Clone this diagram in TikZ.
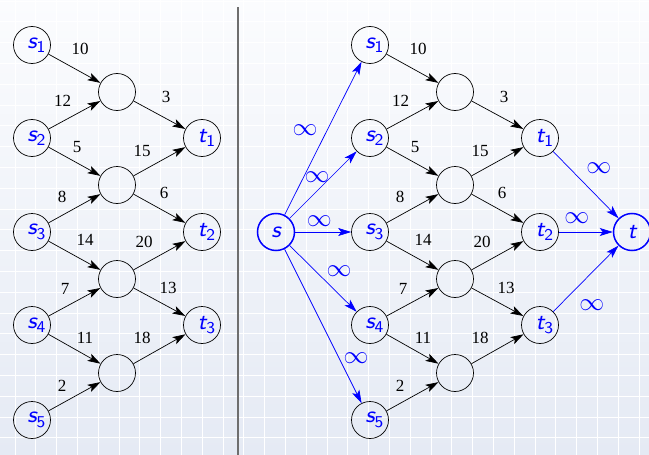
\documentclass[tikz,border=0pt]{standalone}
\usepackage{fontspec}
\newfontfamily\numfont{Liberation Serif}
\newfontfamily\labit{lmsans8-oblique.otf}
\newfontfamily\labup{lmsans8-regular.otf}
\usetikzlibrary{arrows.meta}
\definecolor{bgtop}{HTML}{FBFCFE}
\definecolor{bgbot}{HTML}{E5EAF4}
\definecolor{divgray}{HTML}{6E6E6E}
\newcommand\vl[2]{\fontsize{23}{23}\selectfont\labit #1\rlap{\raisebox{-4.5pt}{\fontsize{16.5}{16.5}\selectfont\labup #2}}}
\tikzset{
  vert/.style={circle, draw=black, line width=0.7pt, minimum size=37pt, inner sep=0pt, text=blue},
  term/.style={vert, draw=blue, line width=1.5pt},
  e/.style={-{Stealth[length=13pt,width=8pt,inset=3pt]}, line width=0.7pt},
  be/.style={e, draw=blue},
  w/.style={font=\numfont\fontsize{17}{17}\selectfont, inner sep=0pt},
  inf/.style={text=blue, font=\fontsize{25}{25}\selectfont, inner sep=0pt},
}
\begin{document}
\begin{tikzpicture}[x=1pt, y=-1pt]
\useasboundingbox (0,0) rectangle (649,455);
\shade[top color=bgtop, bottom color=bgbot] (0,0) rectangle (649,455);
\foreach \k in {0,...,31} \draw[white, line width=0.8pt] ({15+20.8*\k},0) -- ({15+20.8*\k},455);
\foreach \k in {0,...,21} \draw[white, line width=0.8pt] (0,{1+20.8*\k}) -- (649,{1+20.8*\k});
\draw[divgray, line width=1.3pt] (238,7) -- (238,455);

\foreach \p/\ox in {L/0,R/338} {
  \node[vert] (\p s1) at (\ox+32,45) {\vl{s}{1}};
  \node[vert] (\p s2) at (\ox+32,138) {\vl{s}{2}};
  \node[vert] (\p s3) at (\ox+32,232) {\vl{s}{3}};
  \node[vert] (\p s4) at (\ox+32,325) {\vl{s}{4}};
  \node[vert] (\p s5) at (\ox+32,420) {\vl{s}{5}};
  \node[vert] (\p m1) at (\ox+117,92) {};
  \node[vert] (\p m2) at (\ox+117,185) {};
  \node[vert] (\p m3) at (\ox+117,279) {};
  \node[vert] (\p m4) at (\ox+117,373) {};
  \node[vert] (\p t1) at (\ox+202,138) {\vl{t}{1}};
  \node[vert] (\p t2) at (\ox+202,232) {\vl{t}{2}};
  \node[vert] (\p t3) at (\ox+202,325) {\vl{t}{3}};
  \draw[e] (\p s1) -- (\p m1) node[w, midway, shift={(5.5,-19.5)}] {10};
  \draw[e] (\p s2) -- (\p m1) node[w, midway, shift={(-12,-14)}] {12};
  \draw[e] (\p s2) -- (\p m2) node[w, midway, shift={(2.5,-14.5)}] {5};
  \draw[e] (\p s3) -- (\p m2) node[w, midway, shift={(-12.5,-11.5)}] {8};
  \draw[e] (\p s3) -- (\p m3) node[w, midway, shift={(10.5,-15.5)}] {14};
  \draw[e] (\p s4) -- (\p m3) node[w, midway, shift={(-9.5,-13)}] {7};
  \draw[e] (\p s4) -- (\p m4) node[w, midway, shift={(10.5,-11)}] {11};
  \draw[e] (\p s5) -- (\p m4) node[w, midway, shift={(-12.5,-10.5)}] {2};
  \draw[e] (\p m1) -- (\p t1) node[w, midway, shift={(6.5,-18)}] {3};
  \draw[e] (\p m2) -- (\p t1) node[w, midway, shift={(-17.5,-10.5)}] {15};
  \draw[e] (\p m2) -- (\p t2) node[w, midway, shift={(4.5,-15.5)}] {6};
  \draw[e] (\p m3) -- (\p t2) node[w, midway, shift={(-15.5,-13.5)}] {20};
  \draw[e] (\p m3) -- (\p t3) node[w, midway, shift={(8.5,-14)}] {13};
  \draw[e] (\p m4) -- (\p t3) node[w, midway, shift={(-17.5,-11)}] {18};
}

\node[term] (s) at (276,232) {\fontsize{23}{23}\selectfont\labit s};
\node[term] (t) at (632,232) {\fontsize{23}{23}\selectfont\labit t};
\draw[be] (s) -- (Rs1) node[inf, midway, shift={(-18,-8.5)}] {$\infty$};
\draw[be] (s) -- (Rs2) node[inf, midway, shift={(-6,-8)}] {$\infty$};
\draw[be] (s) -- (Rs3) node[inf, midway, shift={(-4,-11)}] {$\infty$};
\draw[be] (s) -- (Rs4) node[inf, midway, shift={(16,-7.5)}] {$\infty$};
\draw[be] (s) -- (Rs5) node[inf, midway, shift={(33,32)}] {$\infty$};
\draw[be] (Rt1) -- (t) node[inf, midway, shift={(13,-17)}] {$\infty$};
\draw[be] (Rt2) -- (t) node[inf, midway, shift={(-9,-14)}] {$\infty$};
\draw[be] (Rt3) -- (t) node[inf, midway, shift={(6,26.5)}] {$\infty$};
\end{tikzpicture}
\end{document}
